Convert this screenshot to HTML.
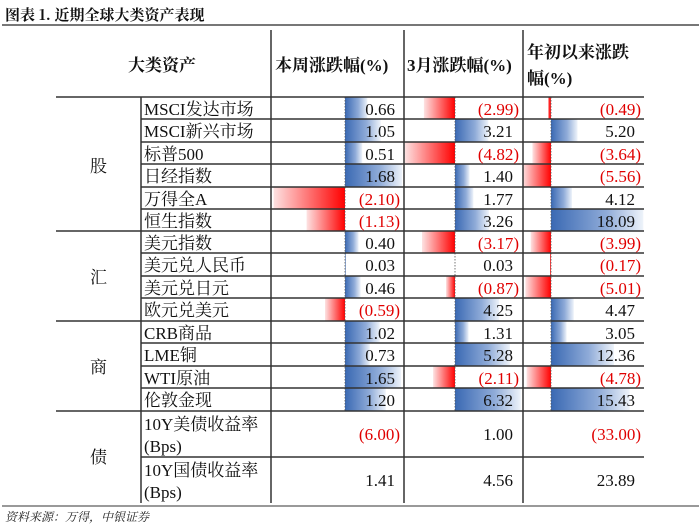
<!DOCTYPE html>
<html><head><meta charset="utf-8"><style>
html,body{margin:0;padding:0;background:#fff;}
svg{display:block}
.t{font-family:"Liberation Serif","Noto Serif CJK SC",serif;font-size:17px;fill:#111}
.n{font-family:"Liberation Serif",serif;font-size:17px;fill:#111;text-anchor:end}
.r{fill:#e00000}
.h{font-family:"Liberation Serif","Noto Serif CJK SC",serif;font-size:17px;font-weight:bold;fill:#111}
</style></head><body>
<svg width="700" height="525" viewBox="0 0 700 525" xmlns="http://www.w3.org/2000/svg">
<defs>
<linearGradient id="b" x1="0" x2="1" y1="0" y2="0"><stop offset="0" stop-color="#3a69b3"/><stop offset="0.6" stop-color="#8fabd8"/><stop offset="1" stop-color="#eef3fa"/></linearGradient>
<linearGradient id="rd" x1="0" x2="1" y1="0" y2="0"><stop offset="0" stop-color="#fde2e2"/><stop offset="1" stop-color="#ff0000"/></linearGradient>
</defs>
<text x="5" y="20" font-family="Noto Serif CJK SC,serif" font-size="15" font-weight="bold" fill="#111">图表 1. 近期全球大类资产表现</text>
<rect x="2" y="24" width="697" height="2" fill="#777"/>
<text x="128" y="71" class="h">大类资产</text>
<text x="275" y="71" class="h">本周涨跌幅(%)</text>
<text x="407" y="71" class="h">3月涨跌幅(%)</text>
<text x="527" y="58" class="h">年初以来涨跌</text>
<text x="527" y="84" class="h">幅(%)</text>
<g id="bars">
<rect x="345" y="97" width="22.4" height="22" fill="url(#b)"/>
<rect x="345" y="119" width="35.7" height="23" fill="url(#b)"/>
<rect x="345" y="142" width="17.3" height="22" fill="url(#b)"/>
<rect x="345" y="164" width="57.1" height="23" fill="url(#b)"/>
<rect x="273.6" y="187" width="71.4" height="22" fill="url(#rd)"/>
<rect x="306.6" y="209" width="38.4" height="22" fill="url(#rd)"/>
<rect x="345" y="231" width="13.6" height="22" fill="url(#b)"/>
<rect x="345" y="253" width="1" height="23" fill="url(#b)"/>
<rect x="345" y="276" width="15.6" height="22" fill="url(#b)"/>
<rect x="325" y="298" width="20" height="23" fill="url(#rd)"/>
<rect x="345" y="321" width="34.7" height="22" fill="url(#b)"/>
<rect x="345" y="343" width="24.8" height="23" fill="url(#b)"/>
<rect x="345" y="366" width="56.1" height="22" fill="url(#b)"/>
<rect x="345" y="388" width="40.8" height="23" fill="url(#b)"/>
<rect x="423.9" y="97" width="31.1" height="22" fill="url(#rd)"/>
<rect x="455" y="119" width="33.4" height="23" fill="url(#b)"/>
<rect x="404.9" y="142" width="50.1" height="22" fill="url(#rd)"/>
<rect x="455" y="164" width="14.6" height="23" fill="url(#b)"/>
<rect x="455" y="187" width="18.4" height="22" fill="url(#b)"/>
<rect x="455" y="209" width="33.9" height="22" fill="url(#b)"/>
<rect x="422" y="231" width="33" height="22" fill="url(#rd)"/>
<rect x="446" y="276" width="9" height="22" fill="url(#rd)"/>
<rect x="455" y="298" width="44.2" height="23" fill="url(#b)"/>
<rect x="455" y="321" width="13.6" height="22" fill="url(#b)"/>
<rect x="455" y="343" width="54.9" height="23" fill="url(#b)"/>
<rect x="433.1" y="366" width="21.9" height="22" fill="url(#rd)"/>
<rect x="455" y="388" width="65.7" height="23" fill="url(#b)"/>
<rect x="548.5" y="97" width="2.5" height="22" fill="#f22"/>
<rect x="551" y="119" width="26.5" height="23" fill="url(#b)"/>
<rect x="532.4" y="142" width="18.6" height="22" fill="url(#rd)"/>
<rect x="522.6" y="164" width="28.4" height="23" fill="url(#rd)"/>
<rect x="551" y="187" width="21" height="22" fill="url(#b)"/>
<rect x="551" y="209" width="92.3" height="22" fill="url(#b)"/>
<rect x="530.7" y="231" width="20.3" height="22" fill="url(#rd)"/>
<rect x="550.1" y="253" width="0.9" height="23" fill="#f22"/>
<rect x="525.4" y="276" width="25.6" height="22" fill="url(#rd)"/>
<rect x="551" y="298" width="22.8" height="23" fill="url(#b)"/>
<rect x="551" y="321" width="15.6" height="22" fill="url(#b)"/>
<rect x="551" y="343" width="63" height="23" fill="url(#b)"/>
<rect x="526.6" y="366" width="24.4" height="22" fill="url(#rd)"/>
<rect x="551" y="388" width="78.7" height="23" fill="url(#b)"/>
</g>
<g stroke="#555" stroke-width="0.8" stroke-dasharray="1.5,1.5">
<line x1="345" y1="97" x2="345" y2="411"/><line x1="455" y1="97" x2="455" y2="411"/><line x1="551" y1="97" x2="551" y2="411"/>
</g>
<g stroke="#333" stroke-width="1.5">
<line x1="56" y1="97" x2="644" y2="97"/><line x1="56" y1="231" x2="644" y2="231"/><line x1="56" y1="321" x2="644" y2="321"/><line x1="56" y1="411" x2="644" y2="411"/>
<line x1="141" y1="119" x2="644" y2="119"/><line x1="141" y1="142" x2="644" y2="142"/><line x1="141" y1="164" x2="644" y2="164"/><line x1="141" y1="187" x2="644" y2="187"/><line x1="141" y1="209" x2="644" y2="209"/>
<line x1="141" y1="253" x2="644" y2="253"/><line x1="141" y1="276" x2="644" y2="276"/><line x1="141" y1="298" x2="644" y2="298"/>
<line x1="141" y1="343" x2="644" y2="343"/><line x1="141" y1="366" x2="644" y2="366"/><line x1="141" y1="388" x2="644" y2="388"/>
<line x1="141" y1="457" x2="644" y2="457"/>
<line x1="141" y1="97" x2="141" y2="503"/>
<line x1="271" y1="30" x2="271" y2="503"/><line x1="404" y1="30" x2="404" y2="503"/><line x1="523" y1="30" x2="523" y2="503"/>
</g>
<rect x="2" y="505" width="697" height="2" fill="#999"/>
<g class="t"><text x="90" y="172">股</text><text x="90" y="283">汇</text><text x="90" y="373">商</text><text x="90" y="463">债</text></g>
<g class="t">
<text x="144" y="115">MSCI发达市场</text><text x="144" y="137">MSCI新兴市场</text><text x="144" y="160">标普500</text><text x="144" y="182">日经指数</text><text x="144" y="205">万得全A</text><text x="144" y="227">恒生指数</text>
<text x="144" y="249">美元指数</text><text x="144" y="271">美元兑人民币</text><text x="144" y="294">美元兑日元</text><text x="144" y="316">欧元兑美元</text>
<text x="144" y="339">CRB商品</text><text x="144" y="361">LME铜</text><text x="144" y="384">WTI原油</text><text x="144" y="406">伦敦金现</text>
<text x="144" y="430">10Y美债收益率</text><text x="144" y="452">(Bps)</text>
<text x="144" y="476">10Y国债收益率</text><text x="144" y="498">(Bps)</text>
</g>
<g class="n">
<text x="395" y="115">0.66</text><text x="519" y="115" class="r">(2.99)</text><text x="641" y="115" class="r">(0.49)</text>
<text x="395" y="137">1.05</text><text x="513" y="137">3.21</text><text x="635" y="137">5.20</text>
<text x="395" y="160">0.51</text><text x="519" y="160" class="r">(4.82)</text><text x="641" y="160" class="r">(3.64)</text>
<text x="395" y="182">1.68</text><text x="513" y="182">1.40</text><text x="641" y="182" class="r">(5.56)</text>
<text x="400" y="205" class="r">(2.10)</text><text x="513" y="205">1.77</text><text x="635" y="205">4.12</text>
<text x="400" y="227" class="r">(1.13)</text><text x="513" y="227">3.26</text><text x="635" y="227">18.09</text>
<text x="395" y="249">0.40</text><text x="519" y="249" class="r">(3.17)</text><text x="641" y="249" class="r">(3.99)</text>
<text x="395" y="271">0.03</text><text x="513" y="271">0.03</text><text x="641" y="271" class="r">(0.17)</text>
<text x="395" y="294">0.46</text><text x="519" y="294" class="r">(0.87)</text><text x="641" y="294" class="r">(5.01)</text>
<text x="400" y="316" class="r">(0.59)</text><text x="513" y="316">4.25</text><text x="635" y="316">4.47</text>
<text x="395" y="339">1.02</text><text x="513" y="339">1.31</text><text x="635" y="339">3.05</text>
<text x="395" y="361">0.73</text><text x="513" y="361">5.28</text><text x="635" y="361">12.36</text>
<text x="395" y="384">1.65</text><text x="519" y="384" class="r">(2.11)</text><text x="641" y="384" class="r">(4.78)</text>
<text x="395" y="406">1.20</text><text x="513" y="406">6.32</text><text x="635" y="406">15.43</text>
<text x="400" y="440" class="r">(6.00)</text><text x="513" y="440">1.00</text><text x="641" y="440" class="r">(33.00)</text>
<text x="395" y="486">1.41</text><text x="513" y="486">4.56</text><text x="635" y="486">23.89</text>
</g>
<text x="5" y="521" font-family="Noto Serif CJK SC,serif" font-size="12" font-style="italic" fill="#222">资料来源：万得，中银证券</text>
</svg>
</body></html>
